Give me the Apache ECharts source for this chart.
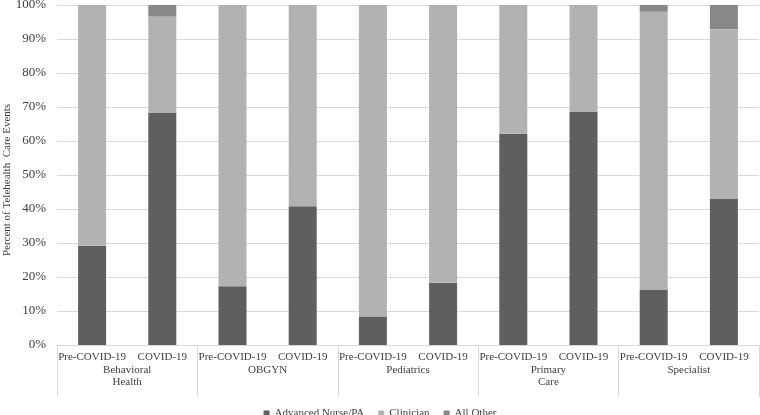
<!DOCTYPE html>
<html>
<head>
<meta charset="utf-8">
<script src="https://cdn.jsdelivr.net/npm/echarts@6/dist/echarts.min.js"></script>
<style>html,body{margin:0;padding:0;background:#fff}#c{width:760px;height:415px}</style>
</head>
<body>
<div id="c"></div>
<script>
var periods = ['Pre-COVID-19','COVID-19','Pre-COVID-19','COVID-19','Pre-COVID-19','COVID-19','Pre-COVID-19','COVID-19','Pre-COVID-19','COVID-19'];
var groups = ['Behavioral\nHealth','OBGYN','Pediatrics','Primary\nCare','Specialist'];
var advancedNurse = [29.2, 68.2, 17.3, 40.8, 8.4, 18.3, 62.1, 68.5, 16.2, 43.1];
var clinician     = [70.8, 28.4, 82.7, 59.2, 91.6, 81.7, 37.9, 31.5, 81.8, 49.8];
var allOther      = [0, 3.4, 0, 0, 0, 0, 0, 0, 2.0, 7.1];
var yTicks = [0,10,20,30,40,50,60,70,80,90,100];

var font = 'Liberation Serif';
var chart = echarts.init(document.getElementById('c'), null, {renderer:'canvas'});
chart.setOption({
  animation: false,
  textStyle: {fontFamily: font},
  grid: {left: 57, right: 1, top: 5, bottom: 70, containLabel: false, outerBoundsMode: 'none'},
  legend: {
    data: ['Advanced Nurse/PA','Clinician','All Other'],
    top: 403, left: 'center', icon: 'rect', itemWidth: 6, itemHeight: 6, itemGap: 14,
    textStyle: {fontFamily: font, fontSize: 11, color: '#404040'}
  },
  xAxis: [{
    type: 'category', data: periods, position: 'bottom',
    axisLine: {show: true, lineStyle: {color: '#d9d9d9'}},
    axisTick: {show: false},
    axisLabel: {interval: 0, margin: 7, fontFamily: font, fontSize: 11, color: '#404040'}
  }, {
    type: 'category', data: groups, position: 'bottom', gridIndex: 0,
    axisLine: {show: false},
    axisTick: {show: true, length: 52, interval: 0, lineStyle: {color: '#d9d9d9'}},
    axisLabel: {interval: 0, margin: 19, fontFamily: font, fontSize: 11, color: '#404040', lineHeight: 12}
  }],
  yAxis: {
    type: 'value', min: 0, max: 100, interval: 10,
    name: 'Percent of Telehealth  Care Events', nameLocation: 'middle', nameGap: 44, nameMoveOverlap: false,
    nameTextStyle: {fontFamily: font, fontSize: 11, color: '#404040', padding: [0, 10, 0, 0]},
    axisLine: {show: false}, axisTick: {show: false},
    axisLabel: {formatter: function(v){ return yTicks.indexOf(v) >= 0 ? v + '%' : ''; }, margin: 11, fontFamily: font, fontSize: 13, color: '#404040'},
    splitLine: {lineStyle: {color: '#d9d9d9'}}
  },
  series: [
    {name: 'Advanced Nurse/PA', type: 'bar', stack: 's', data: advancedNurse, barWidth: 28, xAxisIndex: 0, itemStyle: {color: '#5f5f5f'}},
    {name: 'Clinician', type: 'bar', stack: 's', data: clinician, barWidth: 28, xAxisIndex: 0, itemStyle: {color: '#b2b2b2'}},
    {name: 'All Other', type: 'bar', stack: 's', data: allOther, barWidth: 28, xAxisIndex: 0, itemStyle: {color: '#888888'}}
  ]
});
</script>
</body>
</html>
